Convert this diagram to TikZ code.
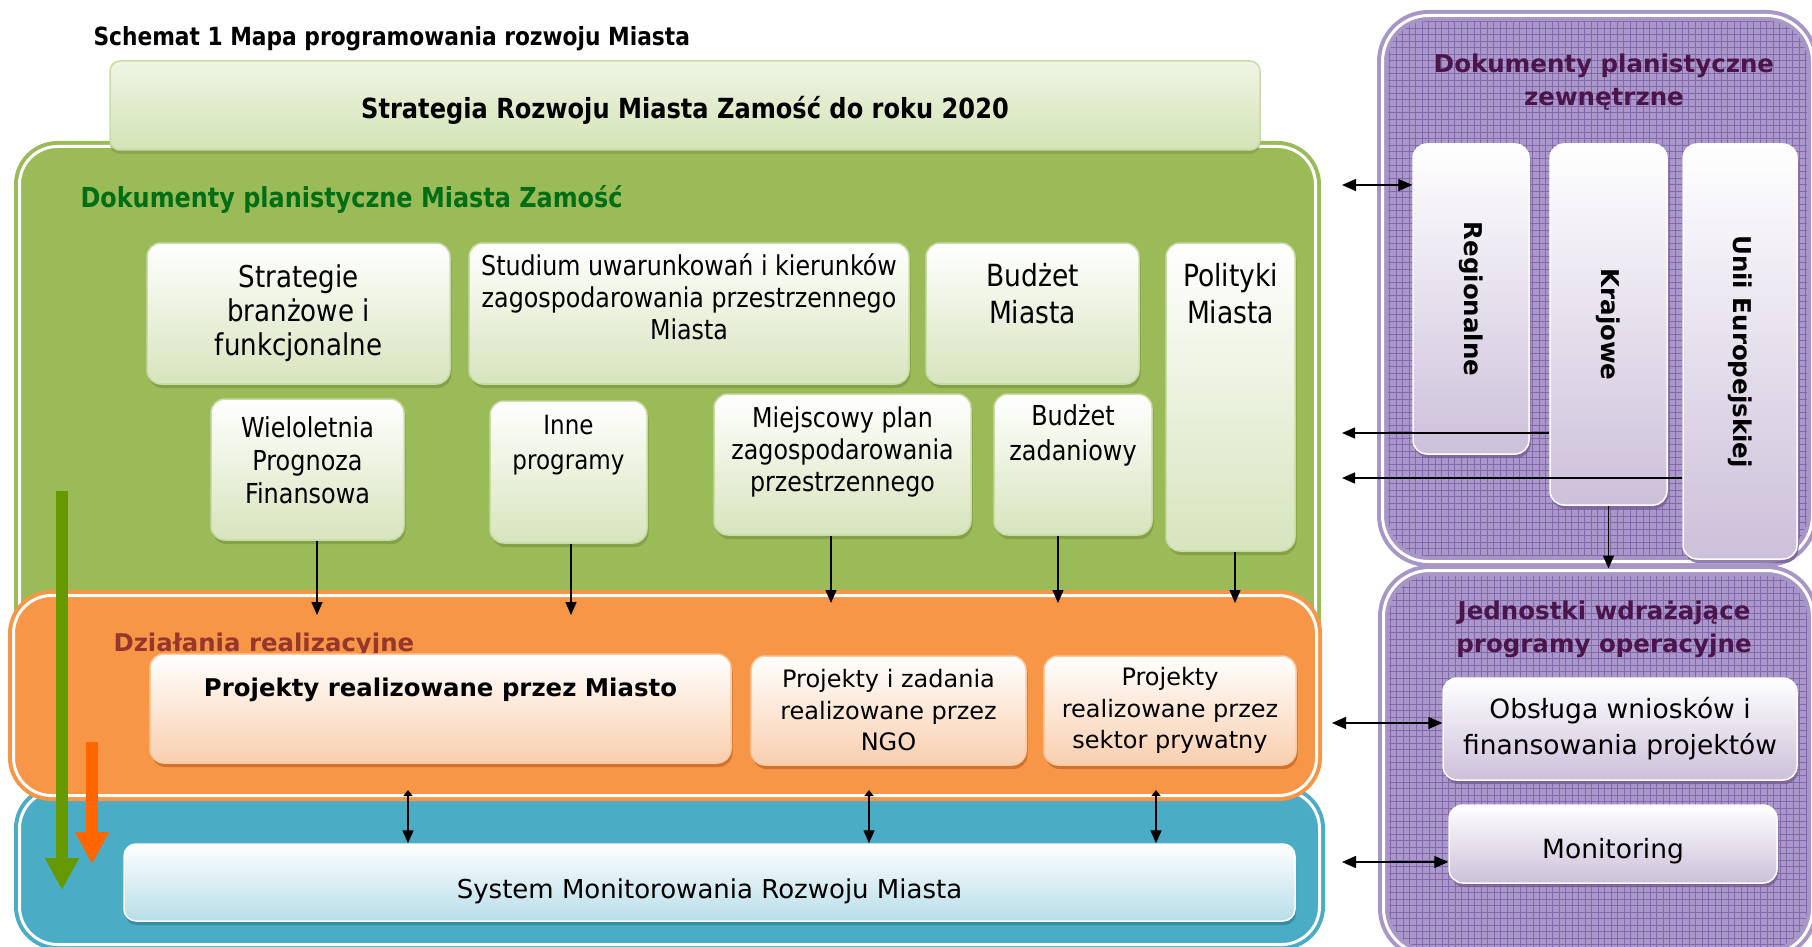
\documentclass[tikz,border=0pt]{standalone}
\usepackage{fontspec}
\setmainfont{DejaVu Sans}
\newfontfamily\nfont{DejaVu Sans}[FakeStretch=0.87]
\usepackage{graphicx}
\usetikzlibrary{arrows.meta,shadows}

\definecolor{cgreen}{HTML}{9BBB59}
\definecolor{cgtext}{RGB}{0,110,20}
\definecolor{gline}{HTML}{C9DBA6}
\definecolor{gbot}{HTML}{D7E4BD}
\definecolor{gshad}{HTML}{7E9C44}
\definecolor{bantop}{HTML}{EFF5E4}
\definecolor{banbot}{HTML}{D3E3B6}
\definecolor{corange}{HTML}{F79646}
\definecolor{cbrown}{RGB}{150,55,45}
\definecolor{obot}{HTML}{F9CFAE}
\definecolor{oline}{HTML}{FBC9A0}
\definecolor{oshad}{HTML}{C8692A}
\definecolor{cblue}{HTML}{4BACC6}
\definecolor{bbot}{HTML}{B7DDE8}
\definecolor{bshad}{HTML}{31859C}
\definecolor{cpurp}{RGB}{170,152,202}
\definecolor{cpgrid}{RGB}{132,104,172}
\definecolor{cpring}{RGB}{168,150,198}
\definecolor{ptext}{RGB}{75,20,75}
\definecolor{pbot}{HTML}{CCC0DA}
\definecolor{pshad}{RGB}{120,95,150}
\definecolor{agreen}{RGB}{102,153,0}
\definecolor{aorange}{HTML}{FF6600}

\newcommand{\toptxt}[4]{\parbox[c][#1][t]{#2}{\centering\vspace*{#3}#4}}

\begin{document}
\begin{tikzpicture}[x=1pt,y=-1pt,
    panel/.style={draw=#1,fill=#1,line width=4pt,double=white,double distance=3pt,rounded corners=38},
    ppanel/.style={draw=cpring,fill=cpurp,line width=4pt,double=white,double distance=3pt,rounded corners=46,
        path picture={\draw[cpgrid,line width=1pt,step=6.5pt] (path picture bounding box.south west) grid (path picture bounding box.north east);}},
    gbox/.style={draw=gline,line width=1.5pt,rounded corners=14,top color=white,bottom color=gbot,inner sep=0pt,align=center,
        drop shadow={shadow xshift=1.5pt,shadow yshift=-4pt,fill=gshad,opacity=.8}},
    banner/.style={draw=gline,line width=1.5pt,rounded corners=10,top color=bantop,bottom color=banbot,inner sep=0pt,
        drop shadow={shadow xshift=0pt,shadow yshift=-4pt,fill=gshad,opacity=.6},font=\nfont\fontsize{27.7}{32}\selectfont\bfseries},
    obox/.style={draw=oline,line width=1.5pt,rounded corners=14,top color=white,bottom color=obot,inner sep=0pt,align=center,
        drop shadow={shadow xshift=1.5pt,shadow yshift=-4pt,fill=oshad,opacity=.8},font=\fontsize{24}{31.5}\selectfont},
    bbox/.style={draw=white,line width=1.5pt,rounded corners=12,top color=white,bottom color=bbot,inner sep=0pt,
        drop shadow={shadow xshift=1pt,shadow yshift=-4pt,fill=bshad,opacity=.8},font=\fontsize{26}{32}\selectfont},
    pbox/.style={draw=white,line width=1.5pt,rounded corners=14,top color=white,bottom color=pbot,inner sep=0pt,align=center,
        drop shadow={shadow xshift=1.5pt,shadow yshift=-4pt,fill=pshad,opacity=.8},font=\fontsize{26.5}{36}\selectfont},
    ptitle/.style={text=ptext,align=center,font=\fontsize{24.5}{33}\selectfont\bfseries},
    arr/.style={-{Triangle[length=13pt,width=11pt]},line width=0.5mm},
    darr/.style={{Triangle[length=14pt,width=12pt]}-{Triangle[length=14pt,width=12pt]},line width=0.5mm},
    marr/.style={{Triangle[length=6pt,width=9pt]}-{Triangle[length=13pt,width=11pt]},line width=0.5mm},
    bigarr/.style={-{Triangle[length=32pt,width=32pt]},line width=12pt,draw=#1}]
    \useasboundingbox (0,0) rectangle (1812,947);

    \node[anchor=west,font=\nfont\fontsize{25}{28}\selectfont\bfseries] (title) at (90,39) {Schemat 1 Mapa programowania rozwoju Miasta};

    % containers
    \node[panel=cgreen,minimum width=1296,minimum height=530] (green) at (667.5,411.5) {};
    \node[panel=cblue,minimum width=1300,minimum height=154] (blue) at (669.5,867.5) {};
    \node[panel=corange,minimum width=1303,minimum height=200] (orange) at (665,695.5) {};
    \node[banner,minimum width=1150,minimum height=89] (strat) at (685,105.5) {\toptxt{89pt}{1100pt}{35pt}{Strategia Rozwoju Miasta Zamość do roku 2020}};

    \node[anchor=west,text=cgtext,font=\nfont\fontsize{27.5}{30}\selectfont\bfseries] (dpm) at (77,199) {Dokumenty planistyczne Miasta Zamość};
    \node[anchor=west,text=cbrown,font=\fontsize{24.4}{30}\selectfont\bfseries] (dr) at (110,645) {Działania realizacyjne};

    % dokumenty miasta
    \node[gbox,minimum width=303,minimum height=141,font=\nfont\fontsize{30}{34}\selectfont] (sbf) at (298.5,313.5) {Strategie\\branżowe i\\funkcjonalne};
    \node[gbox,minimum width=440,minimum height=141,font=\nfont\fontsize{27.3}{32}\selectfont] (suikz) at (689,313.5) {\toptxt{141pt}{430pt}{11pt}{Studium uwarunkowań i kierunków\\zagospodarowania przestrzennego\\Miasta}};
    \node[gbox,minimum width=213,minimum height=141,font=\nfont\fontsize{30.5}{37}\selectfont] (bm) at (1032.5,313.5) {\toptxt{141pt}{200pt}{20pt}{Budżet\\Miasta}};
    \node[gbox,minimum width=129,minimum height=308,font=\nfont\fontsize{30.5}{37}\selectfont] (pol) at (1230.5,397) {\toptxt{308pt}{125pt}{20pt}{Polityki\\Miasta}};
    \node[gbox,minimum width=193,minimum height=141,font=\nfont\fontsize{27.5}{33}\selectfont] (wpf) at (307.5,469.5) {\toptxt{141pt}{185pt}{18pt}{Wieloletnia\\Prognoza\\Finansowa}};
    \node[gbox,minimum width=157,minimum height=142,font=\nfont\fontsize{26.5}{35}\selectfont] (inne) at (568.5,472) {\toptxt{142pt}{150pt}{14pt}{Inne\\programy}};
    \node[gbox,minimum width=257,minimum height=141,font=\nfont\fontsize{27.3}{32}\selectfont] (mpzp) at (842.5,464.5) {\toptxt{141pt}{250pt}{13pt}{Miejscowy plan\\zagospodarowania\\przestrzennego}};
    \node[gbox,minimum width=158,minimum height=141,font=\nfont\fontsize{27.5}{35}\selectfont] (bz) at (1073,464.5) {\toptxt{141pt}{150pt}{11pt}{Budżet\\zadaniowy}};

    % dzialania
    \node[obox,minimum width=581,minimum height=109,font=\fontsize{24.4}{31}\selectfont\bfseries] (pm) at (440.5,708.5) {\toptxt{109pt}{560pt}{24pt}{Projekty realizowane przez Miasto}};
    \node[obox,minimum width=275,minimum height=109] (ngo) at (888.5,710.5) {Projekty i zadania\\realizowane przez\\NGO};
    \node[obox,minimum width=252,minimum height=109] (psp) at (1170,710.5) {Projekty\\realizowane przez\\sektor prywatny};

    \node[bbox,minimum width=1171,minimum height=77] (smr) at (709.5,882.5) {\toptxt{77pt}{1150pt}{35pt}{System Monitorowania Rozwoju Miasta}};

    % zewnetrzne
    \node[ppanel,minimum width=430,minimum height=546] (pdz) at (1597.5,288.5) {};
    \node[ppanel,minimum width=429,minimum height=384] (pjw) at (1598,762.5) {};
    \node[ptitle] (pdzt) at (1604,82) {Dokumenty planistyczne\\zewnętrzne};
    \node[ptitle] (pjwt) at (1604,629) {Jednostki wdrażające\\programy operacyjne};
    \node[pbox,minimum width=116,minimum height=310,font=\fontsize{24.5}{30}\selectfont\bfseries] (reg) at (1471,299) {\rotatebox{-90}{Regionalne}};
    \node[pbox,minimum width=117,minimum height=361,font=\fontsize{24.5}{30}\selectfont\bfseries] (kraj) at (1608.5,324.5) {\rotatebox{-90}{Krajowe}};
    \node[pbox,minimum width=114,minimum height=415,font=\fontsize{24.5}{30}\selectfont\bfseries] (unii) at (1740,351.5) {\rotatebox{-90}{Unii Europejskiej}};
    \node[pbox,minimum width=354,minimum height=102] (obsl) at (1620,729) {Obsługa wniosków i\\finansowania projektów};
    \node[pbox,minimum width=328,minimum height=78] (mon) at (1613,844) {\toptxt{78pt}{300pt}{33pt}{Monitoring}};

    % arrows
    \coordinate (e1) at (317,615);
    \coordinate (e2) at (571,615);
    \coordinate (e3) at (831,603);
    \coordinate (e4) at (1058,603);
    \coordinate (e5) at (1235,603);
    \draw[arr] (wpf.south -| e1) -- (e1);
    \draw[arr] (inne.south -| e2) -- (e2);
    \draw[arr] (mpzp.south -| e3) -- (e3);
    \draw[arr] (bz.south -| e4) -- (e4);
    \draw[arr] (pol.south -| e5) -- (e5);

    \coordinate (m1) at (408,790);
    \coordinate (m2) at (869,790);
    \coordinate (m3) at (1156,790);
    \draw[marr] (m1) -- (m1 |- smr.north);
    \draw[marr] (m2) -- (m2 |- smr.north);
    \draw[marr] (m3) -- (m3 |- smr.north);

    \coordinate (r1) at (1342,185);
    \coordinate (r2) at (1342,433);
    \coordinate (r3) at (1342,478);
    \coordinate (r4) at (1332,723);
    \coordinate (r5) at (1342,862);
    \draw[darr] (r1) -- (r1 -| reg.west);
    \draw[arr] (r2 -| kraj.west) -- (r2);
    \draw[arr] (r3 -| unii.west) -- (r3);
    \draw[arr] (kraj.south) -- (kraj.south |- pjw.north);
    \draw[darr] (r4) -- (r4 -| obsl.west);
    \draw[darr] (r5) -- (r5 -| mon.west);

    \coordinate (g1) at (62,491);
    \coordinate (g2) at (62,890);
    \coordinate (o1) at (92,742);
    \coordinate (o2) at (92,864);
    \draw[bigarr=agreen] (g1) -- (g2);
    \draw[bigarr=aorange] (o1) -- (o2);
    %\node (tmp) at (900,940) {};
\end{tikzpicture}
\end{document}
